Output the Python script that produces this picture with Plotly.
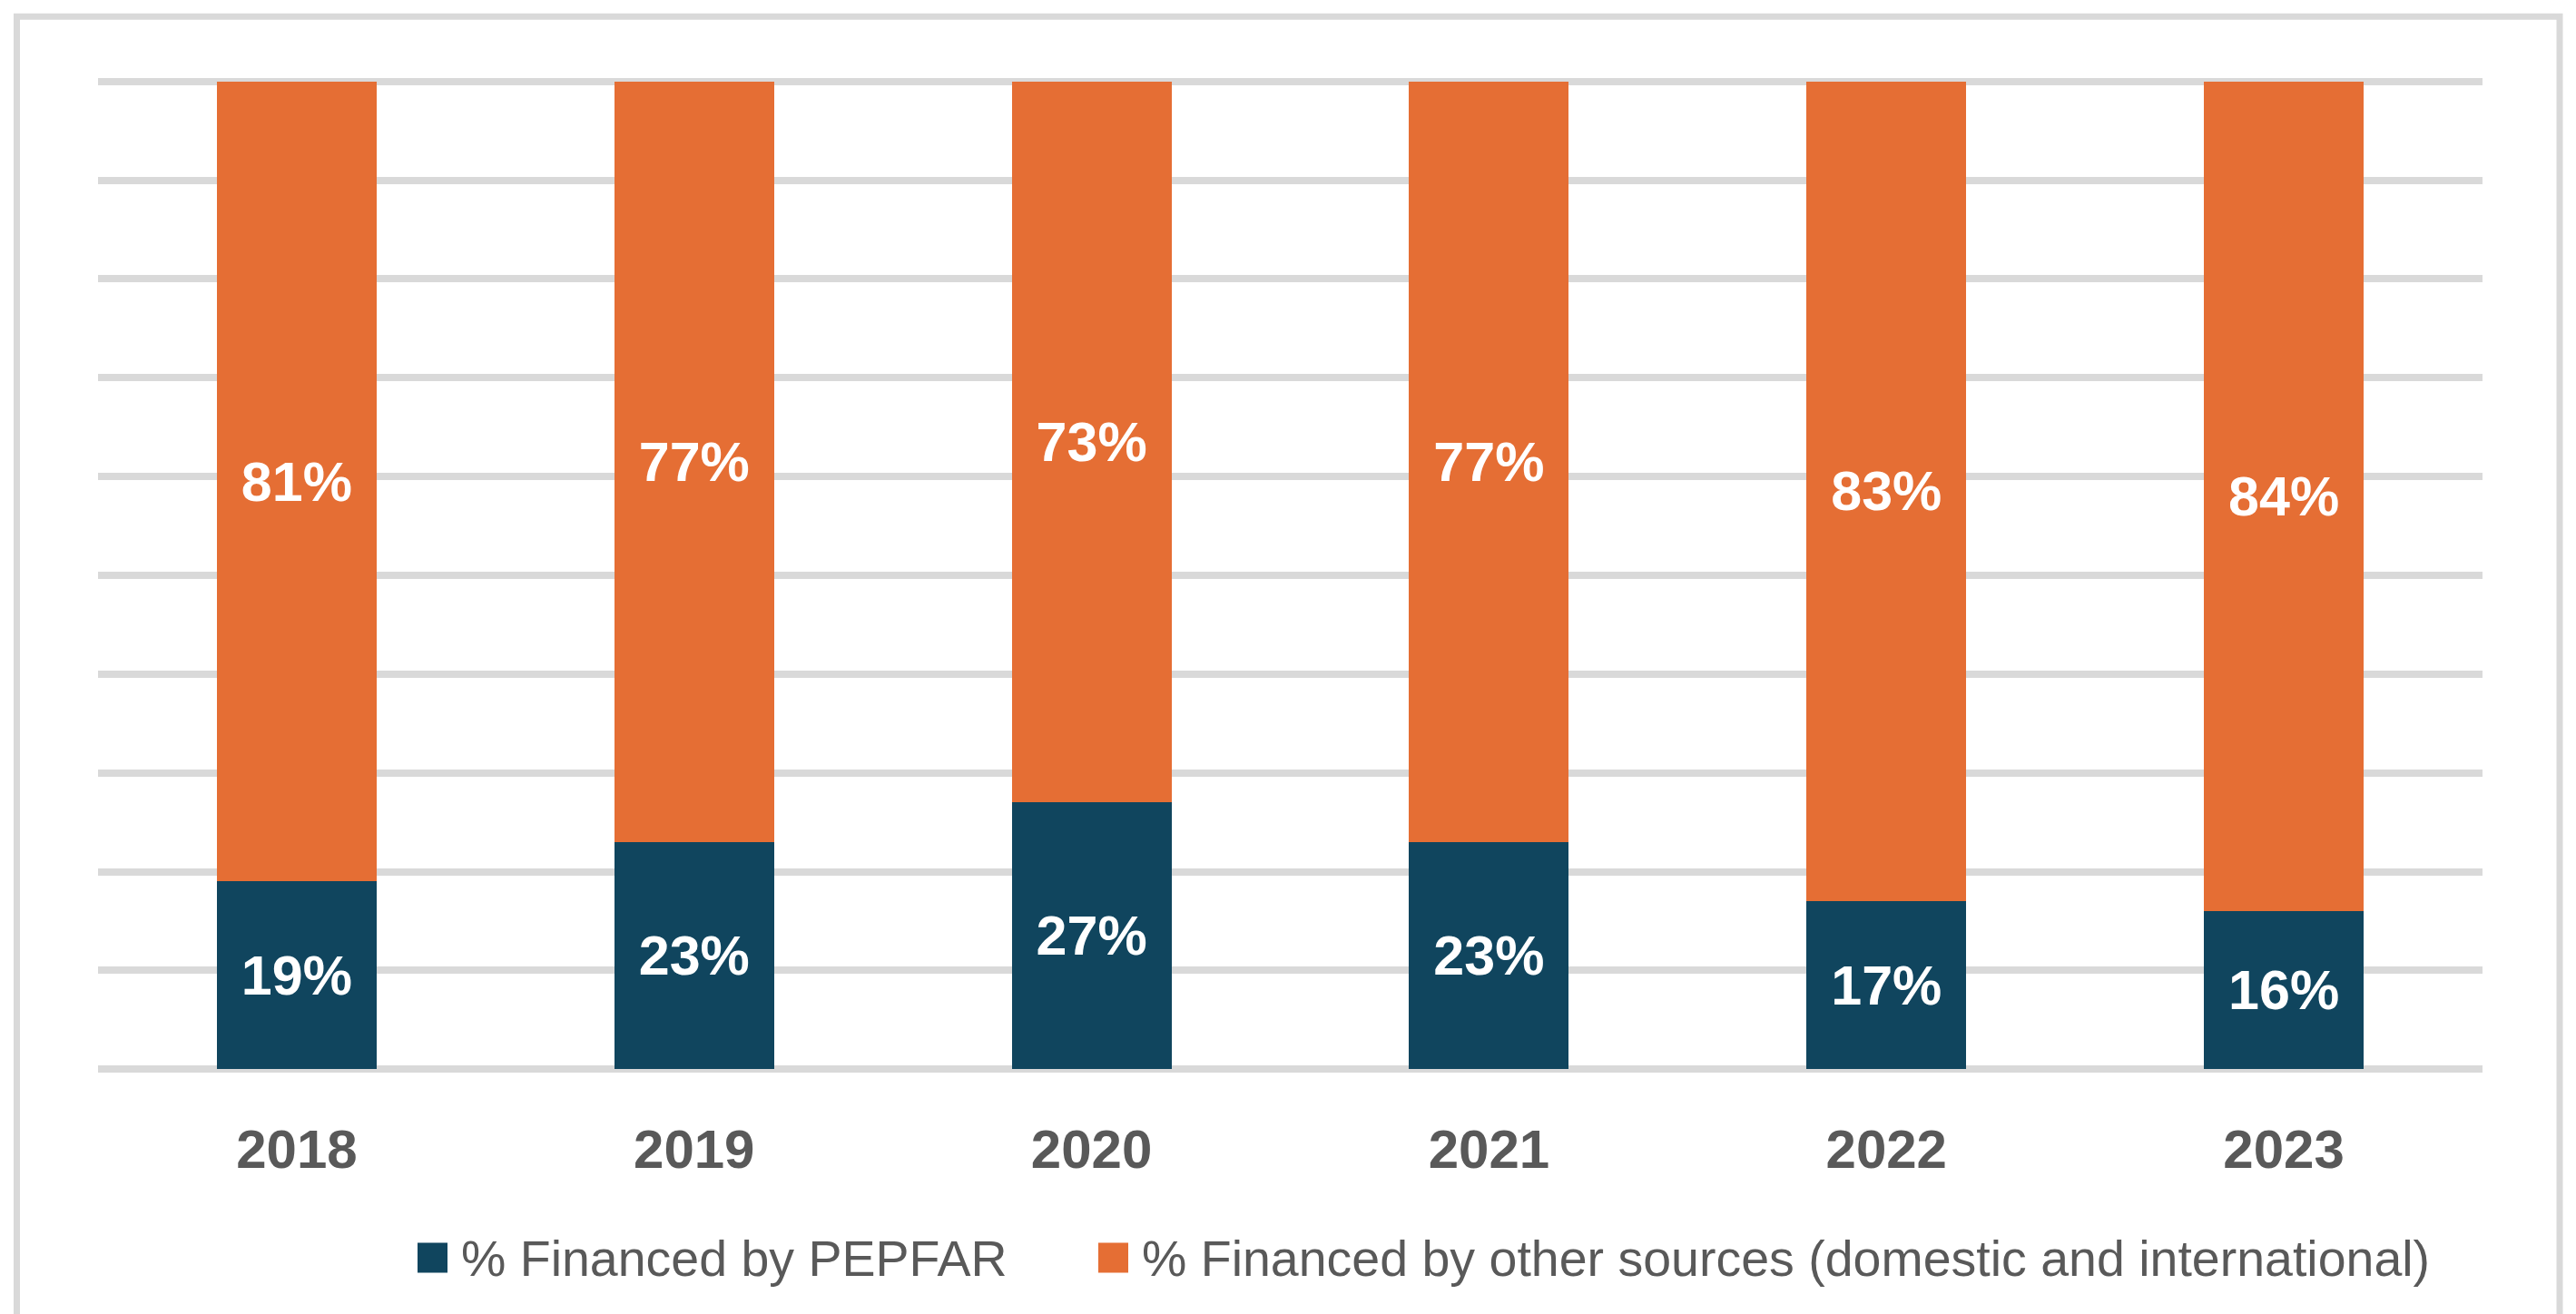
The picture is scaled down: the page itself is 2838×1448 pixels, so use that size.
import plotly.graph_objects as go

years = ["2018", "2019", "2020", "2021", "2022", "2023"]
pepfar = [19, 23, 27, 23, 17, 16]
other = [81, 77, 73, 77, 83, 84]
series_names = ["% Financed by PEPFAR",
                "% Financed by other sources (domestic and international)"]
series_colors = ["#10455E", "#E56E34"]

W, H = 2838, 1448
# pixel geometry of the plot area (value 100 at y=90, value 0 at y=1178)
top_px, base_px = 90, 1178
pad = 0.25  # small range padding so the edge gridlines are drawn
unit = (base_px - top_px) / 100.0
L, R = 108, 103
T = top_px - pad * unit
B = H - (base_px + pad * unit)
pw, ph = W - L - R, H - T - B

def px_x(p):
    return (p - L) / pw

def px_y(p):
    return (H - B - p) / ph

fig = go.Figure()
for name, vals, col in zip(series_names, [pepfar, other], series_colors):
    fig.add_trace(go.Bar(
        x=years, y=vals, name=name, marker=dict(color=col, line=dict(width=0)),
        texttemplate="%{y}%", textposition="inside", insidetextanchor="middle",
        textangle=0,
        insidetextfont=dict(family="Liberation Sans, Arial", size=61, color="white", weight="bold"),
        showlegend=False,
    ))

shapes = [dict(type="rect", xref="paper", yref="paper",
               x0=px_x(18.5), x1=px_x(2820), y0=px_y(1470), y1=px_y(18.5),
               line=dict(color="#D9D9D9", width=7), fillcolor="rgba(0,0,0,0)", layer="below")]
annotations = []
legend_sq_x = [460, 1210]
for name, col, sx in zip(series_names, series_colors, legend_sq_x):
    shapes.append(dict(type="rect", xref="paper", yref="paper",
                       x0=px_x(sx), x1=px_x(sx + 33), y0=px_y(1402), y1=px_y(1369),
                       line=dict(width=0), fillcolor=col))
    annotations.append(dict(xref="paper", yref="paper", x=px_x(sx + 46), y=px_y(1387),
                            xanchor="left", yanchor="middle", showarrow=False, text=name,
                            font=dict(family="Liberation Sans, Arial", size=55.5, color="#595959")))

fig.update_layout(
    width=W, height=H, margin=dict(l=L, r=R, t=T, b=B),
    barmode="stack", bargap=0.598,
    paper_bgcolor="white", plot_bgcolor="white",
    shapes=shapes, annotations=annotations,
    xaxis=dict(showgrid=False, showline=False, zeroline=False, ticks="",
               tickfont=dict(family="Liberation Sans, Arial", size=60, color="#595959", weight="bold"),
               ticklabelstandoff=45),
    yaxis=dict(range=[-pad, 100 + pad], tickvals=list(range(0, 101, 10)),
               showgrid=True, gridcolor="#D9D9D9", gridwidth=8,
               zeroline=False, showline=False, showticklabels=False, ticks=""),
)

fig.write_html("out.html", config={"displayModeBar": False},
               post_script="document.body.style.margin='0';")
